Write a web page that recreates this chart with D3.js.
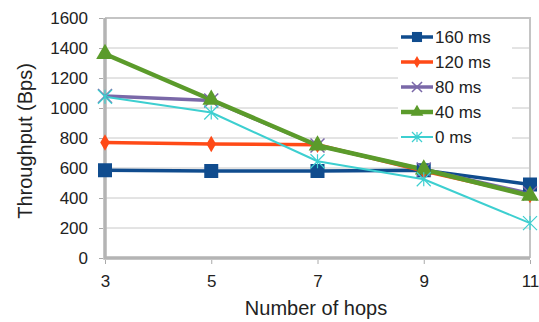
<!DOCTYPE html>
<html><head><meta charset="utf-8">
<script src="https://cdn.jsdelivr.net/npm/d3@7/dist/d3.min.js"></script>
<style>body{margin:0;background:#fff}svg{display:block}text{font-family:"Liberation Sans",Arial,sans-serif;fill:#222}</style>
</head><body><svg id="c" width="539" height="322"></svg>
<script>
const hops = [3, 5, 7, 9, 11];
const yTicks = [0, 200, 400, 600, 800, 1000, 1200, 1400, 1600];
const s160 = [585, 580, 580, 585, 490];
const s120 = [770, 760, 755, 580, 420];
const s80  = [1080, 1050, 750, 590, 430];
const s40  = [1360, 1055, 750, 590, 415];
const s0   = [1075, 970, 645, 525, 233];
const series = [
  {name: "160 ms", values: s160, color: "#104c8e", width: 3.5, marker: "square"},
  {name: "120 ms", values: s120, color: "#ff4a17", width: 3.5, marker: "diamond"},
  {name: "80 ms",  values: s80,  color: "#7a68a8", width: 3.5, marker: "x"},
  {name: "40 ms",  values: s40,  color: "#5b9b2b", width: 4.5, marker: "triangle"},
  {name: "0 ms",   values: s0,   color: "#3dcfd0", width: 2,   marker: "star"}
];

const svg = d3.select("#c");
const L = 105, R = 530, T = 18, B = 258;
const x = d3.scaleLinear().domain([3, 11]).range([L, R]);
const y = d3.scaleLinear().domain([0, 1600]).range([B, T]);

// gridlines
svg.append("g").selectAll("line").data(yTicks.slice(1)).join("line")
  .attr("x1", L).attr("x2", R).attr("y1", d => y(d)).attr("y2", d => y(d))
  .attr("stroke", "#c8c8c8").attr("stroke-width", 1);

// frame
svg.append("path").attr("d", `M${L},${T}H${R}V${B}`).attr("fill", "none").attr("stroke", "#c4c4c4").attr("stroke-width", 2);
svg.append("path").attr("d", `M${L},${T}V${B}H${R}`).attr("fill", "none").attr("stroke", "#b4b4b4").attr("stroke-width", 3.5);

// axes
const ya = svg.append("g").attr("transform", `translate(${L - 2},0)`)
  .call(d3.axisLeft(y).tickValues(yTicks).tickFormat(d3.format("d")).tickSize(4).tickPadding(11));
ya.select(".domain").remove();
ya.selectAll("line").attr("stroke", "#aaa");
ya.selectAll("text").style("font-size", "17px").attr("fill", "#222");

const xa = svg.append("g").attr("transform", `translate(0,${B + 2})`)
  .call(d3.axisBottom(x).tickValues(hops).tickSize(4).tickPadding(11));
xa.select(".domain").remove();
xa.selectAll("line").attr("stroke", "#aaa");
xa.selectAll("text").style("font-size", "17px").attr("fill", "#222");

// titles
svg.append("text").attr("x", 316).attr("y", 315).attr("text-anchor", "middle").style("font-size", "20px").text("Number of hops");
svg.append("text").attr("transform", "translate(32,141) rotate(-90)").attr("text-anchor", "middle").style("font-size", "20px").text("Throughput (Bps)");

function marker(g, type, color, size) {
  if (type === "square") {
    g.append("rect").attr("x", -size).attr("y", -size).attr("width", 2 * size).attr("height", 2 * size).attr("fill", color);
  } else if (type === "diamond") {
    g.append("path").attr("d", d3.symbol(d3.symbolDiamond, size * size * 2.2)()).attr("fill", color);
  } else if (type === "triangle") {
    g.append("path").attr("d", d3.symbol(d3.symbolTriangle, size * size * 3.2)()).attr("fill", color);
  } else if (type === "x") {
    g.append("path").attr("d", `M${-size},${-size}L${size},${size}M${-size},${size}L${size},${-size}`).attr("stroke", color).attr("stroke-width", 1.5);
  } else if (type === "star") {
    g.append("path").attr("d", `M${-size},${-size}L${size},${size}M${-size},${size}L${size},${-size}M0,${-size}V${size}`).attr("stroke", color).attr("stroke-width", 1.2);
  }
}
const msize = {square: 7, diamond: 6, x: 7, triangle: 6.5, star: 7};

const line = d3.line().x((d, i) => x(hops[i])).y(d => y(d));
series.forEach(s => {
  svg.append("path").datum(s.values).attr("d", line).attr("fill", "none")
    .attr("stroke", s.color).attr("stroke-width", s.width).attr("stroke-linejoin", "round");
});
series.forEach(s => {
  s.values.forEach((v, i) => {
    const g = svg.append("g").attr("transform", `translate(${x(hops[i])},${y(v)})`);
    marker(g, s.marker, s.color, msize[s.marker]);
  });
});

// legend
const lg = svg.append("g");
lg.append("rect").attr("x", 398).attr("y", 26).attr("width", 114).attr("height", 124).attr("fill", "#fff");
series.forEach((s, i) => {
  const yy = 37 + i * 25;
  lg.append("line").attr("x1", 401).attr("x2", 433).attr("y1", yy).attr("y2", yy).attr("stroke", s.color).attr("stroke-width", s.width);
  const g = lg.append("g").attr("transform", `translate(417,${yy})`);
  marker(g, s.marker, s.color, msize[s.marker] * 0.72);
  lg.append("text").attr("x", 435).attr("y", yy + 6).style("font-size", "17px").text(s.name);
});
</script></body></html>
